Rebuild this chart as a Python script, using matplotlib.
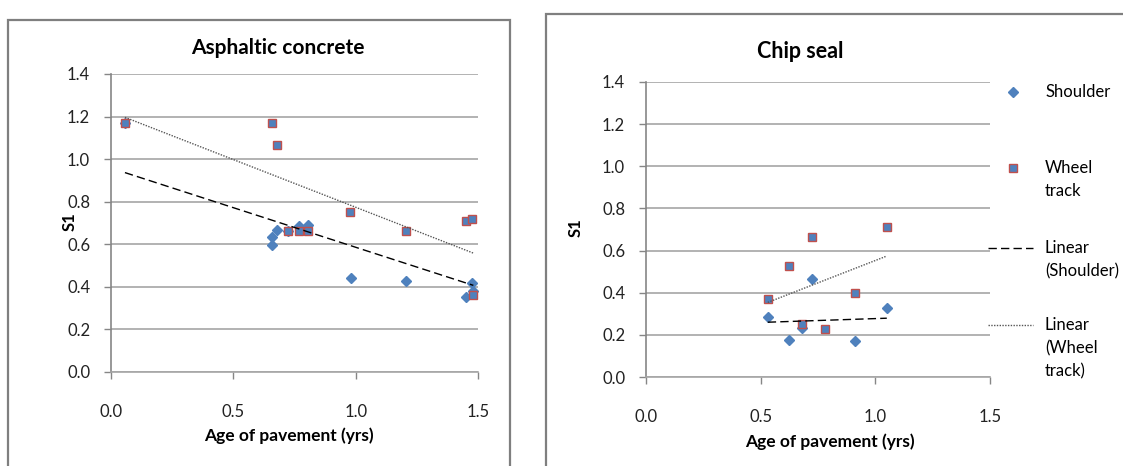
import numpy as np
import matplotlib
matplotlib.use('Agg')
import matplotlib.pyplot as plt
from matplotlib.lines import Line2D
from matplotlib.patches import Rectangle

plt.rcParams['font.family'] = ['Lato', 'DejaVu Sans']

# ---- data ----
# Asphaltic concrete
ac_wheel_age = [0.057, 0.66, 0.679, 0.722, 0.77, 0.804, 0.978, 1.207, 1.45, 1.474, 1.481]
ac_wheel_s1 = [1.168, 1.168, 1.067, 0.662, 0.662, 0.662, 0.752, 0.662, 0.711, 0.719, 0.362]
ac_shoulder_age = [0.057, 0.659, 0.659, 0.677, 0.722, 0.77, 0.804, 0.979, 1.207, 1.45, 1.474, 1.481]
ac_shoulder_s1 = [1.168, 0.636, 0.597, 0.667, 0.662, 0.687, 0.690, 0.440, 0.426, 0.354, 0.417, 0.38]
# trend lines (slope, intercept) as drawn in the original
ac_shoulder_fit = [-0.372, 0.958]
ac_wheel_fit = [-0.448, 1.222]

# Chip seal
cs_wheel_age = [0.531, 0.625, 0.725, 0.682, 0.781, 0.911, 1.05]
cs_wheel_s1 = [0.370, 0.527, 0.666, 0.252, 0.228, 0.400, 0.713]
cs_shoulder_age = [0.531, 0.625, 0.725, 0.682, 0.911, 1.05]
cs_shoulder_s1 = [0.283, 0.176, 0.465, 0.231, 0.171, 0.326]
cs_shoulder_fit = [0.0366, 0.2406]
cs_wheel_fit = [0.424, 0.1289]

x_ticks = [0.0, 0.5, 1.0, 1.5]
y_ticks = [0.0, 0.2, 0.4, 0.6, 0.8, 1.0, 1.2, 1.4]
titles = ['Asphaltic concrete', 'Chip seal']
x_label = 'Age of pavement (yrs)'
y_label = 'S1'
legend_labels = [['Shoulder'], ['Wheel', 'track'], ['Linear', '(Shoulder)'],
                 ['Linear', '(Wheel', 'track)']]

BLUE = '#4F81BD'
RED = '#C0504D'
GRID = '#A6A6A6'
AXC = '#868686'

W, H = 1123, 466
fig = plt.figure(figsize=(W / 100, H / 100), dpi=100)


def fx(x):
    return x / W


def fy(y):
    return 1 - y / H


def make_ax(l, t, r, b):
    return fig.add_axes([fx(l), fy(b), fx(r) - fx(l), fy(t) - fy(b)])


def style(ax):
    ax.set_xlim(0, 1.5)
    ax.set_ylim(0, 1.4)
    ax.set_xticks(x_ticks)
    ax.set_yticks(y_ticks)
    ax.set_xticklabels(['%.1f' % v for v in x_ticks])
    ax.set_yticklabels(['%.1f' % v for v in y_ticks])
    ax.grid(axis='y', color=GRID, lw=1.2)
    ax.set_axisbelow(True)
    ax.spines['top'].set_visible(False)
    ax.spines['right'].set_visible(False)
    ax.spines['left'].set_color(AXC)
    ax.spines['bottom'].set_color(GRID)
    ax.spines['left'].set_linewidth(1.2)
    ax.spines['bottom'].set_linewidth(1.2)
    ax.tick_params(direction='out', length=5, width=1, color=AXC,
                   labelsize=12, labelcolor='#222222')
    ax.tick_params(axis='x', pad=18)
    ax.tick_params(axis='y', pad=10)


def draw(ax, sh_age, sh_s1, wh_age, wh_s1, sh_fit, wh_fit):
    ax.plot(sh_age, sh_s1, 'D', color=BLUE, ms=4.8, mec=BLUE, ls='none', clip_on=False, zorder=3)
    ax.plot(wh_age, wh_s1, 's', color=BLUE, ms=6.4, mec=RED, mew=1.0, ls='none', clip_on=False, zorder=4)
    xs = np.array([min(sh_age), max(sh_age)])
    ax.plot(xs, np.polyval(sh_fit, xs), color='black', lw=1, ls=(0, (6, 3)), zorder=5)
    xw = np.array([min(wh_age), max(wh_age)])
    ax.plot(xw, np.polyval(wh_fit, xw), color='#555555', lw=1, ls=(0, (1, 1)), zorder=5)


ax1 = make_ax(111, 74, 478, 372)
style(ax1)
draw(ax1, ac_shoulder_age, ac_shoulder_s1, ac_wheel_age, ac_wheel_s1, ac_shoulder_fit, ac_wheel_fit)

ax2 = make_ax(646, 82, 990, 377)
style(ax2)
draw(ax2, cs_shoulder_age, cs_shoulder_s1, cs_wheel_age, cs_wheel_s1, cs_shoulder_fit, cs_wheel_fit)

# panel frames (cropped at the bottom / right)
fig.add_artist(Rectangle((fx(8), -0.02), fx(510) - fx(8), fy(20) + 0.02, fill=False,
                         ec='#7F7F7F', lw=1.6, transform=fig.transFigure))
fig.add_artist(Rectangle((fx(546), -0.02), 0.6, fy(14) + 0.02, fill=False,
                         ec='#7F7F7F', lw=1.6, transform=fig.transFigure))

# titles and axis labels
fig.text(fx(278), fy(48), titles[0], ha='center', va='center', fontsize=15, weight='bold')
fig.text(fx(800), fy(52), titles[1], ha='center', va='center', fontsize=15.5, weight='bold')
fig.text(fx(289), fy(436), x_label, ha='center', va='center', fontsize=12.5, weight='bold')
fig.text(fx(830), fy(442), x_label, ha='center', va='center', fontsize=12.5, weight='bold')
fig.text(fx(70), fy(222), y_label, ha='center', va='center', fontsize=12, weight='bold', rotation=90)
fig.text(fx(576), fy(228), y_label, ha='center', va='center', fontsize=12, weight='bold', rotation=90)

# legend of the chip seal chart
fig.add_artist(Line2D([fx(1013)], [fy(92)], marker='D', color=BLUE, ms=4.8, ls='none'))
fig.add_artist(Line2D([fx(1013)], [fy(168)], marker='s', color=BLUE, mec=RED, mew=1.0, ms=6.4, ls='none'))
fig.add_artist(Line2D([fx(988), fx(1033)], [fy(248), fy(248)], color='black', lw=1, ls=(0, (6, 3))))
fig.add_artist(Line2D([fx(988), fx(1033)], [fy(325), fy(325)], color='#555555', lw=1, ls=(0, (1, 1))))
legend_y = [92, 168, 248, 325]
for lines, y0 in zip(legend_labels, legend_y):
    for i, s in enumerate(lines):
        fig.text(fx(1045), fy(y0 + 23 * i), s, ha='left', va='center', fontsize=12)

fig.savefig('out.png', dpi=100)
